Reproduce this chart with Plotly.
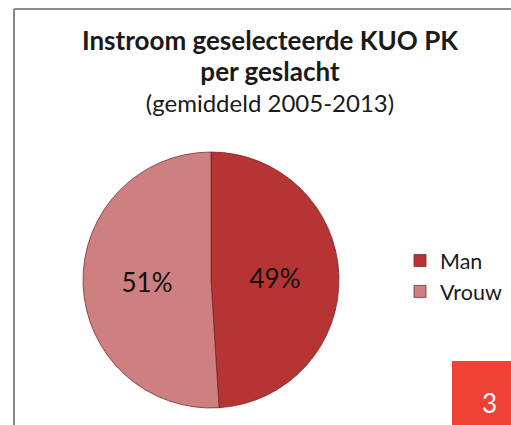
import plotly.graph_objects as go

categories = ["Man", "Vrouw"]
values = [49, 51]
colors = ["#B73434", "#CE7F7F"]

W, H = 511, 425
cx, cy, r = 211, 280, 128

fig = go.Figure()
fig.add_trace(go.Pie(
    labels=categories, values=values, sort=False, direction="clockwise", rotation=0,
    marker=dict(colors=colors, line=dict(color="rgba(110,30,30,0.7)", width=1)),
    textinfo="percent", texttemplate="%{percent:.0%}", textposition="inside",
    insidetextorientation="horizontal",
    textfont=dict(family="Lato", size=26, color="#111111"),
    domain=dict(x=[(cx - r) / W, (cx + r) / W], y=[(H - cy - r) / H, (H - cy + r) / H]),
    hoverinfo="label+percent",
))

fig.update_layout(
    width=W, height=H,
    margin=dict(l=0, r=0, t=0, b=0, autoexpand=False),
    paper_bgcolor="white", plot_bgcolor="white",
    title=dict(
        text="<b><span style='font-size:26px'>Instroom geselecteerde KUO PK</span><br>"
             "<span style='font-size:26px'>per geslacht</span></b><br>(gemiddeld 2005-2013)",
        x=270 / W, xanchor="center", y=1 - 50 / H, yanchor="top",
        font=dict(family="Lato", size=24, color="#1a1a1a"),
    ),
    legend=dict(
        x=400 / W, xanchor="left", y=1 - 240 / H, yanchor="top",
        font=dict(family="Lato", size=21.5, color="#1a1a1a"),
        bgcolor="rgba(0,0,0,0)", itemwidth=30,
    ),
    shapes=[
        dict(type="line", xref="paper", yref="paper", x0=14 / W, x1=14 / W, y0=0, y1=1 - 9 / H,
             line=dict(color="#8a8a8a", width=2)),
        dict(type="line", xref="paper", yref="paper", x0=14 / W, x1=1, y0=1 - 9 / H, y1=1 - 9 / H,
             line=dict(color="#8a8a8a", width=2)),
        dict(type="rect", xref="paper", yref="paper", x0=452 / W, x1=1, y0=0, y1=(H - 361) / H,
             fillcolor="#EF4136", line=dict(width=0)),
    ],
    annotations=[
        dict(text="3", xref="paper", yref="paper", x=489 / W, y=(H - 403) / H,
             xanchor="center", yanchor="middle",
             showarrow=False, font=dict(family="Lato", size=26, color="white")),
    ],
)

fig.write_html("out.html", config={"displayModeBar": False},
               post_script="document.body.style.margin='0';document.body.style.padding='0';")
